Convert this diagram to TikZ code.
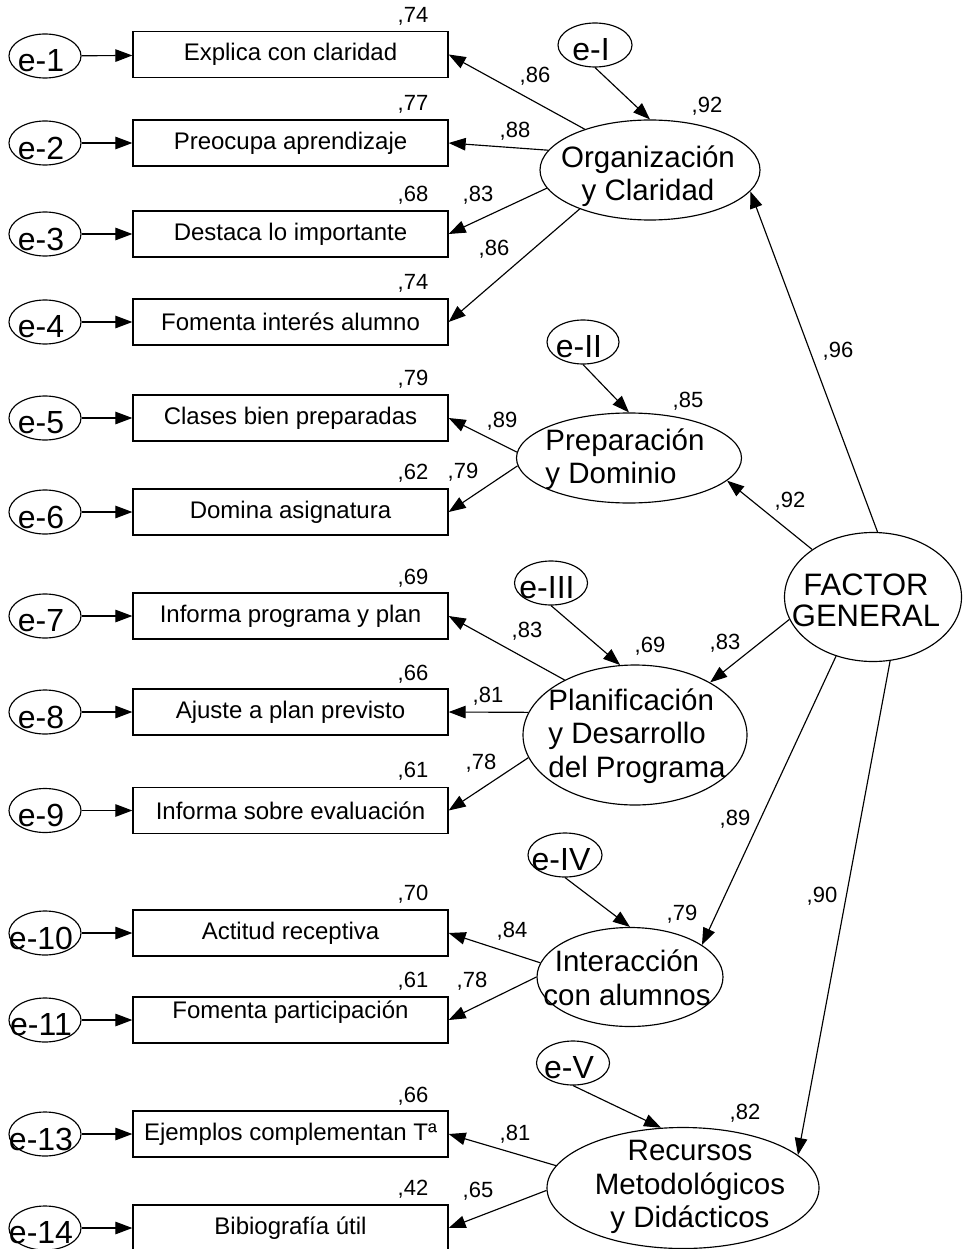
\documentclass[tikz,border=0pt]{standalone}
\usepackage{fontspec}
\setmainfont{Liberation Sans}
\usetikzlibrary{shapes,arrows.meta,calc}

\begin{document}
\begin{tikzpicture}[x=1pt, y=-1pt, line width=1.15pt,
    >={Triangle[length=17pt,width=12.5pt]},
    obs/.style={draw, rectangle, line width=1.3pt, minimum width=315pt, minimum height=46pt, inner sep=0pt, font=\fontsize{24}{27}\selectfont},
    err/.style={draw, ellipse, minimum width=72pt, minimum height=44pt, inner sep=0pt},
    errtxt/.style={inner sep=0pt, xshift=-4pt, yshift=-5pt, font=\fontsize{32}{32}\selectfont},
    lat/.style={draw, ellipse, inner sep=0pt},
    lattxt/.style={inner sep=0pt, font=\fontsize{29.5}{33.5}\selectfont},
    coef/.style={inner sep=0pt, text height=15.8pt, text depth=0pt, font=\fontsize{22}{22}\selectfont}]
    \useasboundingbox (0,0) rectangle (962,1249);
    \fill[white] (0,0) rectangle (962,1249);

    % indicadores
    \node[obs] (o1) at (290.5,54.5) {Explica con claridad};
    \node[obs] (o2) at (290.5,143) {Preocupa aprendizaje};
    \node[obs] (o3) at (290.5,234) {Destaca lo importante};
    \node[obs] (o4) at (290.5,322) {Fomenta interés alumno};
    \node[obs] (o5) at (290.5,418) {Clases bien preparadas};
    \node[obs] (o6) at (290.5,512) {Domina asignatura};
    \node[obs] (o7) at (290.5,616) {Informa programa y plan};
    \node[obs] (o8) at (290.5,712) {Ajuste a plan previsto};
    \node[obs] (o9) at (290.5,810.5) {Informa sobre evaluación};
    \node[obs] (o10) at (290.5,933) {Actitud receptiva};
    \node[obs, text depth=21pt] (o11) at (290.5,1020) {Fomenta participación};
    \node[obs] (o13) at (290.5,1134) {Ejemplos complementan Tª};
    \node[obs] (o14) at (290.5,1228) {Bibiografía útil};

    % errores de medida
    \node[err] (e1) at (45,56) {};   \node[errtxt] (te1) at (e1) {e-1};
    \node[err] (e2) at (45,143) {};  \node[errtxt] (te2) at (e2) {e-2};
    \node[err] (e3) at (45,234) {};  \node[errtxt] (te3) at (e3) {e-3};
    \node[err] (e4) at (45,322) {};  \node[errtxt] (te4) at (e4) {e-4};
    \node[err] (e5) at (45,418) {};  \node[errtxt] (te5) at (e5) {e-5};
    \node[err] (e6) at (45,512) {};  \node[errtxt] (te6) at (e6) {e-6};
    \node[err] (e7) at (45,616) {};  \node[errtxt] (te7) at (e7) {e-7};
    \node[err] (e8) at (45,712) {};  \node[errtxt] (te8) at (e8) {e-8};
    \node[err] (e9) at (45,810.5) {};  \node[errtxt] (te9) at (e9) {e-9};
    \node[err] (e10) at (45,933) {}; \node[errtxt] (te10) at (e10) {e-10};
    \node[err] (e11) at (45,1020) {}; \node[errtxt] (te11) at (e11) {e-11};
    \node[err] (e13) at (45,1134) {}; \node[errtxt] (te13) at (e13) {e-13};
    \node[err] (e14) at (45,1228) {}; \node[errtxt] (te14) at (e14) {e-14};

    \draw[->] (e1) -- (o1);
    \draw[->] (e2) -- (o2);
    \draw[->] (e3) -- (o3);
    \draw[->] (e4) -- (o4);
    \draw[->] (e5) -- (o5);
    \draw[->] (e6) -- (o6);
    \draw[->] (e7) -- (o7);
    \draw[->] (e8) -- (o8);
    \draw[->] (e9) -- (o9);
    \draw[->] (e10) -- (o10);
    \draw[->] (e11) -- (o11);
    \draw[->] (e13) -- (o13);
    \draw[->] (e14) -- (o14);

    % R2 de los indicadores
    \node[coef] (r1) at (413,15) {,74};
    \node[coef] (r2) at (413,103) {,77};
    \node[coef] (r3) at (413,194) {,68};
    \node[coef] (r4) at (413,282) {,74};
    \node[coef] (r5) at (413,378) {,79};
    \node[coef] (r6) at (413,472) {,62};
    \node[coef] (r7) at (413,577) {,69};
    \node[coef] (r8) at (413,673) {,66};
    \node[coef] (r9) at (413,770) {,61};
    \node[coef] (r10) at (413,893) {,70};
    \node[coef] (r11) at (413,980) {,61};
    \node[coef] (r13) at (413,1095) {,66};
    \node[coef] (r14) at (413,1188) {,42};

    % factores
    \node[lat, minimum width=220pt, minimum height=100pt] (org) at (650,170) {};
    \node[lattxt, align=center, xshift=-2pt, yshift=-6pt] (torg) at (org) {Organización\\y Claridad};
    \node[lat, minimum width=225pt, minimum height=90pt] (prep) at (629,458) {};
    \node[lattxt, align=left, xshift=-4pt, yshift=-1pt] (tprep) at (prep) {Preparación\\y Dominio};
    \node[lat, minimum width=224pt, minimum height=140pt] (plan) at (635,735) {};
    \node[lattxt, align=left, xshift=2pt, yshift=-1pt] (tplan) at (plan) {Planificación\\y Desarrollo\\del Programa};
    \node[lat, minimum width=186pt, minimum height=99pt] (inter) at (630,977) {};
    \node[lattxt, align=center, xshift=-3pt, yshift=-1pt] (tinter) at (inter) {Interacción\\con alumnos};
    \node[lat, minimum width=272pt, minimum height=121pt] (rec) at (683,1188) {};
    \node[lattxt, align=center, xshift=7pt, yshift=1pt] (trec) at (rec) {Recursos\\Metodológicos\\y Didácticos};
    \node[lat, minimum width=177pt, minimum height=129pt] (fg) at (873,597) {};
    \node[lattxt, align=center, xshift=-7pt, yshift=-3pt, font=\fontsize{31}{31}\selectfont] (tfg) at (fg) {FACTOR\\GENERAL};

    % errores de los factores
    \node[err, minimum width=74pt] (eI) at (595,45) {};     \node[errtxt] (teI) at (eI) {e-I};
    \node[err] (eII) at (583,342) {};                        \node[errtxt] (teII) at (eII) {e-II};
    \node[err, minimum width=73pt] (eIII) at (551,583) {};  \node[errtxt] (teIII) at (eIII) {e-III};
    \node[err, minimum width=74pt] (eIV) at (565,855) {};   \node[errtxt] (teIV) at (eIV) {e-IV};
    \node[err, minimum width=73pt] (eV) at (573,1063) {};   \node[errtxt] (teV) at (eV) {e-V};

    \draw[->] (eI.south) -- (org.north);
    \draw[->] (eII.south) -- (prep.north);
    \draw[->] (eIII.south) -- (plan.102);
    \draw[->] (eIV.south) -- (inter.north);
    \draw[->] (eV.south) -- (rec.110);

    % cargas factoriales
    \draw[->] (org.148) -- (o1.east);
    \draw[->] (org.169) -- (o2.east);
    \draw[->] (org.190) -- (o3.east);
    \draw[->] (org.209) -- (o4.east);
    \draw[->] (prep.177) -- (o5.east);
    \draw[->] (prep.184) -- (o6.east);
    \draw[->] (plan.142) -- (o7.east);
    \draw[->] (plan.168) -- (o8.east);
    \draw[->] (plan.192) -- (o9.east);
    \draw[->] (inter.171) -- (o10.east);
    \draw[->] (inter.180) -- (o11.east);
    \draw[->] (rec.170) -- (o13.east);
    \draw[->] (rec.181) -- (o14.east);

    \node[coef] (l1) at (535,75) {,86};
    \node[coef] (l2) at (515,130) {,88};
    \node[coef] (l3) at (478,194) {,83};
    \node[coef] (l4) at (494,248) {,86};
    \node[coef] (l5) at (502,420) {,89};
    \node[coef] (l6) at (463,471) {,79};
    \node[coef] (l7) at (527,630) {,83};
    \node[coef] (l8) at (488,695) {,81};
    \node[coef] (l9) at (481,762) {,78};
    \node[coef] (l10) at (512,930) {,84};
    \node[coef] (l11) at (472,980) {,78};
    \node[coef] (l13) at (515,1133) {,81};
    \node[coef] (l14) at (478,1190) {,65};

    % factor general
    \draw[->] (fg.86) -- (org.348);
    \draw[->] (fg.142) -- (prep.347);
    \draw[->] (fg.195) -- (plan.35);
    \draw[->] (fg.238) -- (inter.24);
    \draw[->] (fg.285) -- (rec.16);

    \node[coef] (rorg) at (707,105) {,92};
    \node[coef] (rprep) at (688,400) {,85};
    \node[coef] (rplan) at (650,645) {,69};
    \node[coef] (rinter) at (682,913) {,79};
    \node[coef] (rrec) at (745,1112) {,82};
    \node[coef] (gorg) at (838,350) {,96};
    \node[coef] (gprep) at (790,500) {,92};
    \node[coef] (gplan) at (725,642) {,83};
    \node[coef] (ginter) at (735,818) {,89};
    \node[coef] (grec) at (822,895) {,90};
\end{tikzpicture}
\end{document}
